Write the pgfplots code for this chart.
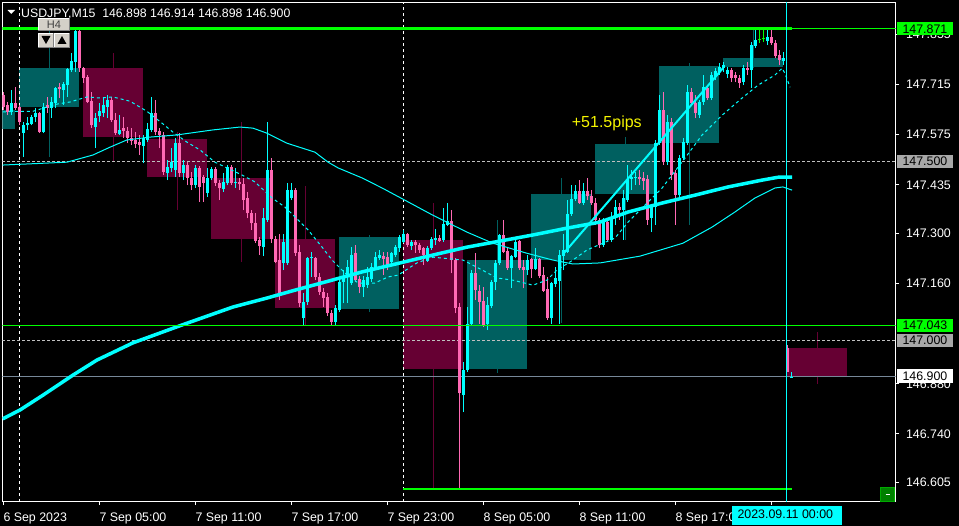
\documentclass[border=0pt]{standalone}
\usepackage{pgfplots}
\pgfplotsset{compat=1.18}
\usepackage{pgfplotstable}
\usepackage{fontspec}
\setmainfont{Liberation Sans}
\definecolor{cbull}{RGB}{0,255,255}
\definecolor{cbear}{RGB}{255,105,180}
\definecolor{hbull}{RGB}{0,96,96}
\definecolor{hbear}{RGB}{102,0,51}
\definecolor{limeg}{RGB}{0,255,0}
\definecolor{bidgray}{RGB}{119,136,153}
\definecolor{sepgray}{RGB}{192,192,192}
\definecolor{lblgray}{RGB}{168,168,168}
\definecolor{btngray}{RGB}{212,208,200}
\definecolor{btntext}{RGB}{64,64,64}
\definecolor{pipsyellow}{RGB}{245,245,0}
\definecolor{btngreen}{RGB}{0,128,0}
\definecolor{btngreenb}{RGB}{0,170,0}

% M15 candles, bullish
\pgfplotstableread{
i o h l c
2 147.638 147.699 147.629 147.663
5 147.579 147.610 147.512 147.601
6 147.601 147.624 147.588 147.607
7 147.604 147.629 147.601 147.624
8 147.624 147.649 147.610 147.635
10 147.582 147.663 147.579 147.652
12 147.649 147.680 147.621 147.666
13 147.663 147.707 147.649 147.705
15 147.699 147.721 147.657 147.716
16 147.713 147.760 147.680 147.758
17 147.755 147.802 147.749 147.780
18 147.777 147.866 147.749 147.864
23 147.596 147.635 147.537 147.621
24 147.627 147.663 147.610 147.640
25 147.635 147.680 147.624 147.657
26 147.652 147.685 147.621 147.671
29 147.576 147.629 147.574 147.588
35 147.543 147.574 147.495 147.565
36 147.560 147.607 147.554 147.590
37 147.588 147.680 147.582 147.635
41 147.468 147.504 147.448 147.484
42 147.482 147.537 147.470 147.498
43 147.476 147.565 147.456 147.551
45 147.468 147.504 147.448 147.490
48 147.434 147.490 147.426 147.481
51 147.413 147.482 147.401 147.453
52 147.453 147.485 147.448 147.478
55 147.422 147.467 147.415 147.443
56 147.439 147.490 147.434 147.485
58 147.439 147.482 147.426 147.443
65 147.262 147.369 147.236 147.341
66 147.338 147.611 147.332 147.476
70 147.216 147.299 147.197 147.276
71 147.216 147.440 147.211 147.420
72 147.397 147.439 147.392 147.420
75 147.062 147.133 147.044 147.109
76 147.109 147.234 147.100 147.230
77 147.230 147.248 147.178 147.234
83 147.053 147.100 147.044 147.090
84 147.086 147.169 147.080 147.164
85 147.164 147.197 147.104 147.178
86 147.178 147.225 147.105 147.206
87 147.160 147.262 147.155 147.239
90 147.151 147.180 147.123 147.169
91 147.155 147.206 147.147 147.178
92 147.171 147.217 147.164 147.206
93 147.206 147.248 147.197 147.234
94 147.232 147.253 147.225 147.239
97 147.220 147.248 147.217 147.244
98 147.239 147.267 147.234 147.262
99 147.258 147.295 147.248 147.290
100 147.276 147.309 147.272 147.298
102 147.264 147.281 147.253 147.276
106 147.223 147.264 147.220 147.260
107 147.258 147.290 147.253 147.283
108 147.281 147.313 147.267 147.286
110 147.281 147.369 147.276 147.325
111 147.323 147.383 147.320 147.335
115 146.848 146.941 146.801 146.918
116 146.918 147.095 146.913 147.048
117 147.048 147.197 147.044 147.188
121 147.048 147.123 147.030 147.100
122 147.097 147.169 147.090 147.164
123 147.164 147.225 147.141 147.216
124 147.216 147.299 147.211 147.295
127 147.202 147.239 147.146 147.236
128 147.234 147.290 147.230 147.276
131 147.197 147.239 147.183 147.225
133 147.201 147.258 147.197 147.227
137 147.062 147.164 147.048 147.160
138 147.158 147.206 147.151 147.174
139 147.167 147.253 147.048 147.239
140 147.236 147.299 147.197 147.253
141 147.248 147.392 147.244 147.353
142 147.353 147.434 147.348 147.394
143 147.394 147.434 147.390 147.417
145 147.385 147.440 147.378 147.417
150 147.267 147.342 147.261 147.331
152 147.281 147.359 147.275 147.342
153 147.342 147.392 147.323 147.373
155 147.364 147.420 147.281 147.398
156 147.392 147.490 147.387 147.451
157 147.451 147.476 147.420 147.456
158 147.454 147.470 147.434 147.457
162 147.342 147.378 147.303 147.373
163 147.373 147.560 147.323 147.551
164 147.551 147.685 147.546 147.643
166 147.498 147.629 147.490 147.610
169 147.406 147.518 147.398 147.509
170 147.509 147.565 147.504 147.554
171 147.551 147.713 147.546 147.693
174 147.629 147.671 147.621 147.666
175 147.666 147.741 147.657 147.707
177 147.677 147.749 147.671 147.741
178 147.735 147.760 147.727 147.752
179 147.749 147.774 147.741 147.763
180 147.760 147.777 147.749 147.769
181 147.744 147.763 147.732 147.755
185 147.721 147.769 147.713 147.760
187 147.755 147.833 147.705 147.825
188 147.822 147.866 147.816 147.838
191 147.836 147.866 147.825 147.847
195 147.780 147.805 147.769 147.788
197 146.898 146.914 146.898 146.900
}\bulltab

% M15 candles, bearish
\pgfplotstableread{
i o h l c
0 147.685 147.693 147.643 147.652
1 147.657 147.666 147.629 147.638
3 147.663 147.707 147.643 147.649
4 147.652 147.657 147.601 147.610
9 147.635 147.638 147.579 147.582
11 147.657 147.680 147.635 147.649
14 147.707 147.719 147.677 147.702
19 147.864 147.866 147.749 147.760
20 147.760 147.763 147.719 147.732
21 147.735 147.741 147.663 147.666
22 147.668 147.693 147.593 147.601
27 147.671 147.680 147.610 147.615
28 147.615 147.635 147.574 147.579
30 147.593 147.624 147.565 147.585
31 147.585 147.596 147.551 147.565
32 147.565 147.593 147.546 147.557
33 147.560 147.582 147.537 147.548
34 147.554 147.574 147.518 147.546
38 147.635 147.671 147.574 147.582
39 147.585 147.593 147.537 147.574
40 147.574 147.582 147.462 147.470
44 147.551 147.579 147.456 147.468
46 147.490 147.498 147.434 147.454
47 147.454 147.470 147.420 147.434
49 147.481 147.487 147.388 147.429
50 147.456 147.462 147.388 147.440
53 147.478 147.485 147.431 147.441
54 147.441 147.448 147.392 147.425
57 147.485 147.490 147.434 147.439
59 147.443 147.454 147.420 147.437
60 147.437 147.454 147.364 147.392
61 147.397 147.415 147.341 147.355
62 147.355 147.364 147.309 147.327
63 147.329 147.355 147.272 147.279
64 147.281 147.290 147.239 147.264
67 147.476 147.509 147.272 147.283
68 147.283 147.292 147.216 147.220
69 147.225 147.299 147.113 147.132
73 147.420 147.426 147.236 147.244
74 147.248 147.267 147.095 147.104
78 147.230 147.234 147.169 147.178
79 147.178 147.189 147.127 147.137
80 147.137 147.147 147.095 147.118
81 147.123 147.133 147.069 147.076
82 147.078 147.086 147.044 147.053
88 147.244 147.267 147.164 147.169
89 147.171 147.180 147.132 147.151
95 147.236 147.248 147.183 147.227
96 147.234 147.248 147.197 147.206
101 147.298 147.301 147.262 147.267
103 147.276 147.281 147.244 147.267
104 147.267 147.272 147.244 147.253
105 147.258 147.262 147.211 147.239
109 147.286 147.295 147.276 147.279
112 147.335 147.364 147.188 147.225
113 147.225 147.230 147.076 147.091
114 147.095 147.104 146.586 146.853
118 147.188 147.244 147.113 147.141
119 147.139 147.155 147.048 147.109
120 147.111 147.151 147.039 147.044
125 147.295 147.338 147.244 147.248
126 147.251 147.258 147.197 147.202
129 147.279 147.281 147.197 147.202
130 147.206 147.225 147.146 147.197
132 147.227 147.232 147.174 147.199
134 147.227 147.230 147.174 147.180
135 147.183 147.206 147.137 147.139
136 147.143 147.178 147.058 147.062
144 147.417 147.448 147.381 147.385
146 147.417 147.454 147.392 147.403
147 147.403 147.420 147.378 147.384
148 147.384 147.398 147.323 147.337
149 147.337 147.342 147.258 147.267
151 147.331 147.337 147.275 147.281
154 147.373 147.384 147.337 147.364
159 147.457 147.476 147.434 147.451
160 147.454 147.470 147.420 147.445
161 147.451 147.462 147.323 147.337
165 147.643 147.693 147.490 147.498
167 147.610 147.621 147.448 147.462
168 147.468 147.476 147.323 147.406
172 147.693 147.705 147.657 147.663
173 147.663 147.685 147.621 147.635
176 147.705 147.713 147.671 147.677
182 147.755 147.760 147.721 147.732
183 147.741 147.749 147.721 147.732
184 147.732 147.741 147.705 147.719
186 147.760 147.777 147.741 147.755
192 147.847 147.866 147.825 147.830
193 147.830 147.838 147.788 147.794
194 147.797 147.811 147.769 147.783
196 146.980 146.988 146.913 146.913
}\beartab

% doji candles
\pgfplotstableread{
i o h l c
189 147.838 147.871 147.830 147.841
190 147.841 147.866 147.833 147.844
}\dojitab

% H4 candles drawn as boxes: x = centre bar, o/c = body, l/h = wick
\pgfplotstableread{
x o c l h
-4.5 147.591 147.643 147.591 147.643
11.5 147.652 147.760 147.512 147.866
91.5 147.088 147.290 147.080 147.295
123.5 146.920 147.225 146.911 147.337
139.5 147.226 147.409 147.049 147.453
155.5 147.409 147.548 147.281 147.569
171.5 147.551 147.767 147.323 147.774
187.5 147.764 147.789 147.760 147.871
}\hbulltab
\pgfplotstableread{
x o c l h
27.5 147.760 147.567 147.498 147.802
43.5 147.562 147.456 147.364 147.582
59.5 147.454 147.284 147.220 147.611
75.5 147.284 147.092 147.044 147.432
107.5 147.281 146.920 146.586 147.383
203.5 146.980 146.901 146.879 147.025
}\hbeartab

\newcommand{\lbl}{\fontsize{12.4}{14}\selectfont}

\begin{document}
\begin{tikzpicture}[x=1pt,y=1pt]
\fill[black] (0,0) rectangle (959,526);
\useasboundingbox (0,0) rectangle (959,526);
\begin{axis}[
  at={(2.3pt,24.3pt)}, anchor=south west,
  scale only axis, width=893.4pt, height=499.4pt,
  xmin=-0.25, xmax=223.1, ymin=146.551, ymax=147.944,
  axis line style={white, line width=1pt},
  clip mode=individual,
  tick align=outside, major tick length=3.5pt,
  tick style={white, line width=1pt},
  xtick pos=bottom, ytick pos=right, yticklabel pos=right,
  xtick={0,24,48,72,96,120,144,168,192},
  xticklabels={6 Sep 2023,7 Sep 05:00,7 Sep 11:00,7 Sep 17:00,7 Sep 23:00,8 Sep 05:00,8 Sep 11:00,8 Sep 17:00,{}},
  ytick={146.605,146.740,146.880,147.160,147.300,147.435,147.575,147.715,147.855},
  scaled y ticks=false,
  /pgf/number format/assume math mode=true,
  yticklabel style={/pgf/number format/fixed, /pgf/number format/fixed zerofill, /pgf/number format/precision=3},
  ticklabel style={font=\lbl, text=white, inner sep=0pt},
  xticklabel style={anchor=base west, yshift=-16.6pt},
  yticklabel style={anchor=west, xshift=6.6pt},
]
% H4 wicks and boxes
\addplot[draw=none, mark=none, error bars/.cd, y dir=plus, y explicit, error mark=none,
  error bar style={draw=hbull, line width=1pt}]
  table[x=x, y=l, y error plus expr=\thisrow{h}-\thisrow{l}] {\hbulltab};
\addplot[draw=none, mark=none, error bars/.cd, y dir=plus, y explicit, error mark=none,
  error bar style={draw=hbear, line width=1pt}]
  table[x=x, y=l, y error plus expr=\thisrow{h}-\thisrow{l}] {\hbeartab};
\addplot[draw=none, mark=none, error bars/.cd, y dir=plus, y explicit, error mark=none,
  error bar style={draw=hbull, line width=60pt}]
  table[x=x, y=o, y error plus expr=\thisrow{c}-\thisrow{o}] {\hbulltab};
\addplot[draw=none, mark=none, error bars/.cd, y dir=plus, y explicit, error mark=none,
  error bar style={draw=hbear, line width=60pt}]
  table[x=x, y=c, y error plus expr=\thisrow{o}-\thisrow{c}] {\hbeartab};

% separators and round-number levels
\addplot[white, line width=1pt, dash pattern=on 3pt off 3pt] coordinates {(4,146.551) (4,147.944)};
\addplot[white, line width=1pt, dash pattern=on 3pt off 3pt] coordinates {(100,146.551) (100,147.944)};
\addplot[sepgray, line width=1pt, dash pattern=on 3pt off 2pt] coordinates {(-0.25,147.500) (223.1,147.500)};
\addplot[sepgray, line width=1pt, dash pattern=on 3pt off 2pt] coordinates {(-0.25,147.000) (223.1,147.000)};
\addplot[bidgray, line width=1pt] coordinates {(-0.25,146.900) (223.1,146.900)};

% M15 candles: wicks
\addplot[draw=none, mark=none, error bars/.cd, y dir=plus, y explicit, error mark=none,
  error bar style={draw=cbull, line width=1pt}]
  table[x=i, y=l, y error plus expr=\thisrow{h}-\thisrow{l}] {\bulltab};
\addplot[draw=none, mark=none, error bars/.cd, y dir=plus, y explicit, error mark=none,
  error bar style={draw=cbear, line width=1pt}]
  table[x=i, y=l, y error plus expr=\thisrow{h}-\thisrow{l}] {\beartab};
\addplot[draw=none, mark=none, error bars/.cd, y dir=plus, y explicit, error mark=none,
  error bar style={draw=limeg, line width=1pt}]
  table[x=i, y=l, y error plus expr=\thisrow{h}-\thisrow{l}] {\dojitab};
% bodies
\addplot[draw=none, mark=none, error bars/.cd, y dir=plus, y explicit, error mark=none,
  error bar style={draw=cbull, line width=3pt}]
  table[x=i, y=o, y error plus expr=\thisrow{c}-\thisrow{o}] {\bulltab};
\addplot[draw=none, mark=none, error bars/.cd, y dir=plus, y explicit, error mark=none,
  error bar style={draw=cbear, line width=3pt}]
  table[x=i, y=c, y error plus expr=\thisrow{o}-\thisrow{c}] {\beartab};
\addplot[draw=none, mark=none, error bars/.cd, y dir=plus, y explicit, error mark=none,
  error bar style={draw=limeg, line width=3pt}]
  table[x=i, y=o, y error plus expr=\thisrow{c}-\thisrow{o}] {\dojitab};

% moving averages
\addplot[cbull, line width=1pt, line join=round] coordinates {
(-0.15,147.490) (9.9,147.495) (15.9,147.498) (22.4,147.518) (26.7,147.540) (30.9,147.560)
(36.7,147.568) (43.4,147.574) (52.4,147.588) (59.2,147.596) (62.4,147.593) (65.9,147.579)
(70.9,147.551) (77.9,147.526) (81.2,147.498) (83.7,147.482) (89.7,147.454) (94.7,147.426)
(100.4,147.392) (107.4,147.350) (115.9,147.303) (122.4,147.272) (130.9,147.244) (137.4,147.225)
(142.4,147.214) (149.2,147.217) (159.2,147.236) (169.9,147.272) (177.2,147.317) (182.9,147.359)
(187.9,147.398) (192.9,147.426) (194.9,147.429) (197.2,147.420)};
\addplot[cbull, line width=1pt, dash pattern=on 3pt off 3pt] coordinates {
(-0.1,147.638) (4.2,147.640) (7.4,147.640) (13.4,147.660) (16.7,147.666) (20.9,147.680)
(24.2,147.677) (27.4,147.680) (31.7,147.668) (35.9,147.640) (40.0,147.604) (42.4,147.582)
(45.9,147.554) (49.2,147.532) (52.9,147.498) (59.7,147.462) (62.9,147.443) (67.2,147.398)
(70.4,147.373) (73.7,147.337) (76.2,147.309) (79.7,147.261) (82.2,147.225) (85.4,147.189)
(88.7,147.161) (92.9,147.161) (96.2,147.178) (98.7,147.183) (103.4,147.217) (107.4,147.233)
(114.9,147.225) (118.4,147.205) (123.4,147.175) (127.4,147.169) (132.4,147.155) (135.9,147.169)
(138.4,147.197) (142.4,147.225) (145.9,147.253) (149.9,147.272) (152.9,147.286) (156.2,147.331)
(164.7,147.426) (170.4,147.509) (174.7,147.574) (179.7,147.629) (184.7,147.677) (188.7,147.713)
(192.9,147.741) (194.7,147.760) (195.4,147.746) (196.7,147.707)};
\addplot[cbull, line width=3.5pt, line join=round] coordinates {
(-0.15,146.782) (4.2,146.807) (9.9,146.848) (17.4,146.904) (23.4,146.946) (32.4,146.994)
(44.7,147.044) (57.4,147.094) (65.9,147.119) (72.9,147.141) (81.2,147.166) (89.7,147.192)
(99.2,147.217) (107.4,147.239) (115.9,147.261) (124.2,147.278) (132.4,147.295) (140.9,147.314)
(149.2,147.331) (156.2,147.359) (164.7,147.384) (172.9,147.406) (181.2,147.429) (189.7,147.448)
(193.7,147.456) (197.2,147.456)};
% trend line of the +51.5 pips move
\addplot[cbull, line width=2pt] coordinates {(140.2,147.245) (179.9,147.760)};

% price levels and time marker
\addplot[limeg, line width=3.3pt] coordinates {(-0.25,147.871) (197.1,147.871)};
\addplot[limeg, line width=1pt] coordinates {(197.1,147.871) (223.1,147.871)};
\addplot[limeg, line width=1pt] coordinates {(-0.25,147.043) (223.1,147.043)};
\addplot[limeg, line width=2.5pt] coordinates {(100,146.586) (197.1,146.586)};
\addplot[cbull, line width=1pt] coordinates {(195.9,146.551) (195.9,147.944)};
\end{axis}

% price labels on the right
\fill[limeg] (897.3,490.7) rectangle (952.7,503.7);
\node[anchor=west, inner sep=0pt, font=\lbl, text=black] at (902.3,497.2) {147.871};
\fill[lblgray] (897.3,358) rectangle (952.7,371);
\node[anchor=west, inner sep=0pt, font=\lbl, text=black] at (902.3,364.5) {147.500};
\fill[limeg] (897.3,194) rectangle (952.7,207);
\node[anchor=west, inner sep=0pt, font=\lbl, text=black] at (902.3,200.5) {147.043};
\fill[lblgray] (897.3,178.7) rectangle (952.7,192);
\node[anchor=west, inner sep=0pt, font=\lbl, text=black] at (902.3,185.3) {147.000};
\fill[white] (897.3,142.7) rectangle (952.7,157);
\node[anchor=west, inner sep=0pt, font=\lbl, text=black] at (902.3,149.8) {146.900};

% time label
\fill[cbull] (732,1) rectangle (842,20.3);
\node[anchor=base west, inner sep=0pt, font=\lbl, text=black] at (737.3,7.7) {2023.09.11 00:00};

% header
\fill[white] (7.5,516) -- (15,516) -- (11.25,512) -- cycle;
\node[anchor=base west, inner sep=0pt, font=\fontsize{12.3}{14}\selectfont, text=white] at (21,508.7) {USDJPY,M15~~146.898 146.914 146.898 146.900};

% H4 button and arrows
\fill[btngray] (38.3,495.3) rectangle (69.7,507.7);
\draw[white, line width=1pt] (38.8,495.3) -- (38.8,507.2) -- (69.7,507.2);
\draw[gray, line width=1pt] (38.3,495.8) -- (69.2,495.8) -- (69.2,507.7);
\node[inner sep=0pt, font=\fontsize{11}{13}\selectfont, text=btntext] at (54,501.5) {H4};
\fill[btngray] (38.3,478.3) rectangle (53.7,493.3);
\fill[btngray] (54.3,478.3) rectangle (69.7,493.3);
\draw[white, line width=1pt] (38.8,478.3) -- (38.8,492.8) -- (53.7,492.8);
\draw[white, line width=1pt] (54.8,478.3) -- (54.8,492.8) -- (69.7,492.8);
\draw[gray, line width=1pt] (38.3,478.8) -- (53.2,478.8) -- (53.2,493.3);
\draw[gray, line width=1pt] (54.3,478.8) -- (69.2,478.8) -- (69.2,493.3);
\fill[black] (41.5,490) -- (50.5,490) -- (46,482) -- cycle;
\fill[black] (57.5,482) -- (66.5,482) -- (62,490) -- cycle;

% pips annotation
\node[anchor=base west, inner sep=0pt, font=\fontsize{16}{18}\selectfont, text=pipsyellow] at (571.7,398.3) {+51.5pips};

% small green button
\fill[btngreen] (880,24.3) rectangle (895,39);
\draw[btngreenb, line width=1pt] (880.5,24.8) rectangle (894.5,38.5);
\draw[white, line width=1pt] (885.5,31.6) -- (889.5,31.6);
\end{tikzpicture}
\end{document}
